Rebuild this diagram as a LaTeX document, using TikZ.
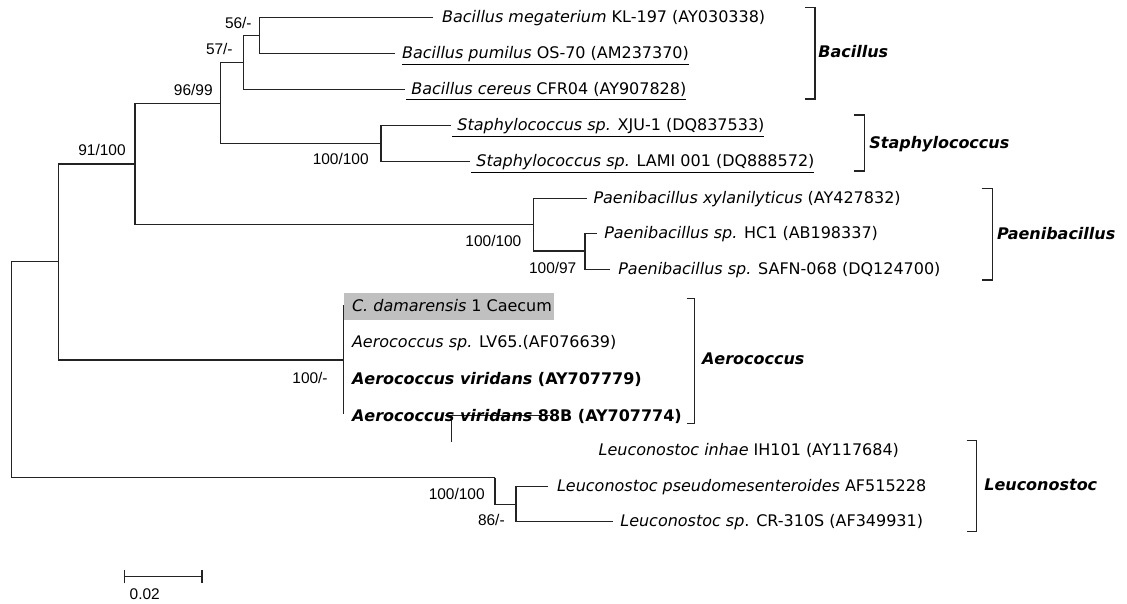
\documentclass[tikz,border=0pt]{standalone}
\usepackage{fontspec}
\setmainfont{DejaVu Sans}
\newfontfamily\bootfont{Liberation Sans}
\usetikzlibrary{positioning,arrows.meta}
\definecolor{boxgray}{RGB}{192,192,192}
\definecolor{linegray}{RGB}{35,35,35}

\begin{document}
\begin{tikzpicture}[
        x=0.02cm, y=-0.02cm,
        every node/.style={font=\fontsize{9.1}{11}\selectfont},
        branch/.style={draw=linegray, line width=0.75pt},
        taxon/.style={anchor=base west, inner sep=0pt, yshift=-0.1cm},
        boot/.style={anchor=base east, inner sep=0pt, yshift=-0.117cm, font=\bootfont\fontsize{8.8}{10}\selectfont},
        genus/.style={anchor=base west, inner sep=0pt, yshift=-0.117cm, font=\fontsize{9.1}{11}\selectfont\bfseries\itshape},
        bracket/.style={draw=linegray, line width=0.75pt},
        cbox/.style={fill=boxgray, anchor=north west, inner sep=0pt, minimum width=4.19cm, minimum height=0.54cm}
    ]
        \useasboundingbox (0,0) rectangle (1127,603);

        % Inner nodes of the tree
        \coordinate (root)  at (11.7,369.2);
        \coordinate (nA)    at (58.3,261.7);
        \coordinate (nB)    at (135,164);
        \coordinate (nC)    at (220.7,103.3);
        \coordinate (nD)    at (243.3,62.3);
        \coordinate (nE)    at (259.3,35.3);
        \coordinate (nSta)  at (381,143.7);
        \coordinate (nPae)  at (533.3,224.3);
        \coordinate (nPae2) at (585,251);
        \coordinate (nAero) at (343.3,360);
        \coordinate (nLeu)  at (495,477.7);
        \coordinate (nLeu2) at (516,504.3);

        % Tips
        \coordinate (tMeg) at (433.3,17.3);
        \coordinate (tPum) at (395,53.3);
        \coordinate (tCer) at (405,89.3);
        \coordinate (tXju) at (451,125.7);
        \coordinate (tLam) at (470,161.7);
        \coordinate (tXyl) at (586.7,198.3);
        \coordinate (tHc)  at (596.7,233.3);
        \coordinate (tSaf) at (610,269.3);
        \coordinate (tCda) at (343.3,306);
        \coordinate (tAsp) at (343.3,342.7);
        \coordinate (tAva) at (343.3,379.3);
        \coordinate (tAvb) at (343.3,416);
        \coordinate (tInh) at (598.3,450);
        \coordinate (tPse) at (548.3,486.7);
        \coordinate (tCr)  at (613.3,521.7);

        % Branches
        \draw[branch] (nA) -| (root) |- (nLeu);
        \draw[branch] (nB) -| (nA) |- (nAero);
        \draw[branch] (nC) -| (nB) |- (nPae);
        \draw[branch] (nD) -| (nC) |- (nSta);
        \draw[branch] (nE) -| (nD) |- (tCer);
        \draw[branch] (tMeg) -| (nE) |- (tPum);
        \draw[branch] (tXju) -| (nSta) |- (tLam);
        \draw[branch] (tXyl) -| (nPae) |- (nPae2);
        \draw[branch] (tHc) -| (nPae2) |- (tSaf);
        \draw[branch] (nLeu) |- (nLeu2);
        \draw[branch] (tPse) -| (nLeu2) |- (tCr);

        % Aerococcus clade (zero length tips)
        \node[cbox] (cdamBox) at (344,292.3) {};
        \draw[branch] ([yshift=0.02cm]tCda) -- ([yshift=0.04cm]tAvb);

        % Stray branch across the last Aerococcus label
        \coordinate (sA) at (445,415.7);
        \coordinate (sB) at (550,415.7);
        \coordinate (sC) at (451.7,415.7);
        \coordinate (sD) at (451.7,441.7);
        \draw[branch] (sA) -- (sB);
        \draw[branch] (sC) -- (sD);

        % Taxon labels
        \node[taxon, xshift=0.168cm] (lMeg) at (tMeg) {\textit{Bacillus megaterium} KL-197 (AY030338)};
        \node[taxon, xshift=0.134cm] (lPum) at (tPum) {\underline{\textit{Bacillus pumilus} OS-70 (AM237370)}};
        \node[taxon, xshift=0.02cm] (lCer) at (tCer) {\underline{\ \textit{Bacillus cereus} CFR04 (AY907828)}};
        \node[taxon, xshift=0.02cm] (lXju) at (tXju) {\underline{\ \textit{Staphylococcus sp.} XJU-1 (DQ837533)}};
        \node[taxon, xshift=0.02cm] (lLam) at (tLam) {\underline{\ \textit{Staphylococcus sp.} LAMI 001 (DQ888572)}};
        \node[taxon, xshift=0.13cm] (lXyl) at (tXyl) {\textit{Paenibacillus xylanilyticus} (AY427832)};
        \node[taxon, xshift=0.145cm] (lHc) at (tHc) {\textit{Paenibacillus sp.} HC1 (AB198337)};
        \node[taxon, xshift=0.16cm] (lSaf) at (tSaf) {\textit{Paenibacillus sp.} SAFN-068 (DQ124700)};
        \node[taxon, xshift=0.168cm] (lCda) at (tCda) {\textit{C. damarensis} 1 Caecum};
        \node[taxon, xshift=0.168cm] (lAsp) at (tAsp) {\textit{Aerococcus sp.} LV65.(AF076639)};
        \node[taxon, xshift=0.168cm] (lAva) at (tAva) {\textbf{\textit{Aerococcus viridans} (AY707779)}};
        \node[taxon, xshift=0.168cm] (lAvb) at (tAvb) {\textbf{\textit{Aerococcus viridans} 88B (AY707774)}};
        \node[taxon] (lInh) at (tInh) {\textit{Leuconostoc inhae} IH101 (AY117684)};
        \node[taxon, xshift=0.168cm] (lPse) at (tPse) {\textit{Leuconostoc pseudomesenteroides} AF515228};
        \node[taxon, xshift=0.134cm] (lCr) at (tCr) {\textit{Leuconostoc sp}. CR-310S (AF349931)};

        % Bootstrap values
        \node[boot] (bE)    at (252,22.7)   {56/-};
        \node[boot] (bD)    at (233,48.3)   {57/-};
        \node[boot] (bC)    at (213,89.3)   {96/99};
        \node[boot] (bB)    at (126,150)    {91/100};
        \node[boot] (bSta)  at (369,158.7)  {100/100};
        \node[boot] (bPae)  at (521.7,241)  {100/100};
        \node[boot] (bPae2) at (576.7,267.7) {100/97};
        \node[boot] (bAero) at (328,377.3)  {100/-};
        \node[boot] (bLeu)  at (485,493.3)  {100/100};
        \node[boot] (bLeu2) at (505,519.3)  {86/-};

        % Genus brackets
        \coordinate (gBac) at (805,7.3);
        \coordinate (gSta) at (854,115);
        \coordinate (gPae) at (981.7,188.3);
        \coordinate (gAer) at (686.7,298.3);
        \coordinate (gLeu) at (966.7,440.7);
        \draw[bracket] (gBac) -- ++(10,0) -- ++(0,91.7) -- ++(-10,0);
        \draw[bracket] (gSta) -- ++(10.3,0) -- ++(0,56) -- ++(-10.3,0);
        \draw[bracket] (gPae) -- ++(10.6,0) -- ++(0,91.7) -- ++(-10.6,0);
        \draw[bracket] (gAer) -- ++(7.6,0) -- ++(0,125) -- ++(-7.6,0);
        \draw[bracket] (gLeu) -- ++(10,0) -- ++(0,91) -- ++(-10,0);
        \node[genus] (nmBac) at (818,51.7)   {Bacillus};
        \node[genus] (nmSta) at (869,142.3)  {Staphylococcus};
        \node[genus] (nmPae) at (996.7,233.3) {Paenibacillus};
        \node[genus] (nmAer) at (701.7,359)  {Aerococcus};
        \node[genus] (nmLeu) at (984,485)    {Leuconostoc};

        % Scale bar
        \coordinate (sbL) at (124,576.7);
        \coordinate (sbR) at (202.7,576.7);
        \draw[branch, {Bar[width=0.27cm]}-{Bar[width=0.27cm]}] (sbL) -- (sbR);
        \node[boot, anchor=base] (sbLab) at (144.7,593.3) {0.02};

    \end{tikzpicture}
\end{document}
